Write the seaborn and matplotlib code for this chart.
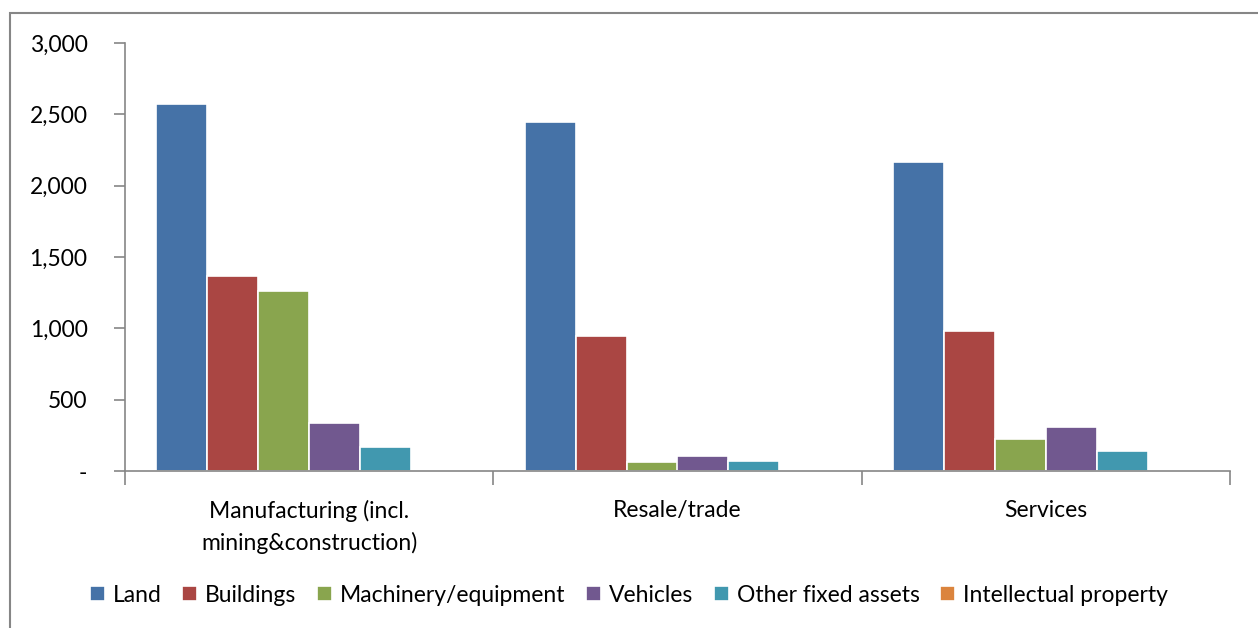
import pandas as pd
import matplotlib.pyplot as plt
import matplotlib.ticker as mticker
from matplotlib.patches import Rectangle
import seaborn as sns

# Sectors and asset types
sectors = ["Manufacturing (incl.\nmining&construction)", "Resale/trade", "Services"]
asset_types = ["Land", "Buildings", "Machinery/equipment", "Vehicles",
               "Other fixed assets", "Intellectual property"]

land = [2570, 2445, 2165]
buildings = [1365, 945, 980]
machinery = [1265, 63, 225]
vehicles = [335, 103, 305]
other_assets = [165, 70, 140]
intellectual = [0, 0, 0]

colors = ["#4572A7", "#AA4643", "#89A54E", "#71588F", "#4198AF", "#DB843D"]

# long format for seaborn
values = [land, buildings, machinery, vehicles, other_assets, intellectual]
rows = []
for asset, vals in zip(asset_types, values):
    for sector, v in zip(sectors, vals):
        rows.append({"Sector": sector, "Asset": asset, "Value": v})
df = pd.DataFrame(rows)

sns.set_theme(style="white")
plt.rcParams["font.family"] = ["Lato", "DejaVu Sans"]

fig = plt.figure(figsize=(12.58, 6.28), dpi=100)
ax = fig.add_axes([125 / 1258, 1 - 471 / 628, 1105 / 1258, 428 / 628])

sns.barplot(data=df, x="Sector", y="Value", hue="Asset", order=sectors,
            hue_order=asset_types, palette=colors, width=0.83,
            edgecolor="white", linewidth=1.2, saturation=1, ax=ax)

ax.set_ylim(0, 3000)
ax.set_xlim(-0.5, 2.5)
ax.yaxis.set_major_locator(mticker.MultipleLocator(500))
ax.yaxis.set_major_formatter(mticker.FuncFormatter(
    lambda v, p: "-" if v == 0 else f"{v:,.0f}"))
ax.set_xlabel("")
ax.set_ylabel("")

for side in ["top", "right"]:
    ax.spines[side].set_visible(False)
for side in ["left", "bottom"]:
    ax.spines[side].set_color("#868686")
    ax.spines[side].set_linewidth(1.2)

ax.tick_params(axis="y", which="major", left=True, length=8, width=1.2,
               color="#868686", pad=19, labelsize=16.5, labelcolor="black")
ax.tick_params(axis="x", which="major", bottom=False, pad=15,
               labelsize=16.5, labelcolor="black")
for lbl in ax.get_xticklabels():
    lbl.set_linespacing(1.55)
ax.set_xticks([-0.5, 0.5, 1.5, 2.5], minor=True)
ax.tick_params(axis="x", which="minor", bottom=True, length=10, width=1.2,
               color="#868686")

handles, labels = ax.get_legend_handles_labels()
ax.legend(handles, labels, loc="center", bbox_to_anchor=(0.5, 1 - 595 / 628),
          bbox_transform=fig.transFigure, ncol=6, frameon=False, fontsize=16.5,
          handlelength=0.65, handleheight=0.65, handletextpad=0.35,
          columnspacing=0.9, labelcolor="black")

# chart border
fig.patches.append(Rectangle((10 / 1258, -0.01), 1.0, 1 - 13 / 628 + 0.01,
                             transform=fig.transFigure, fill=False,
                             edgecolor="#868686", linewidth=1.5))

fig.savefig("out.png", dpi=100)
